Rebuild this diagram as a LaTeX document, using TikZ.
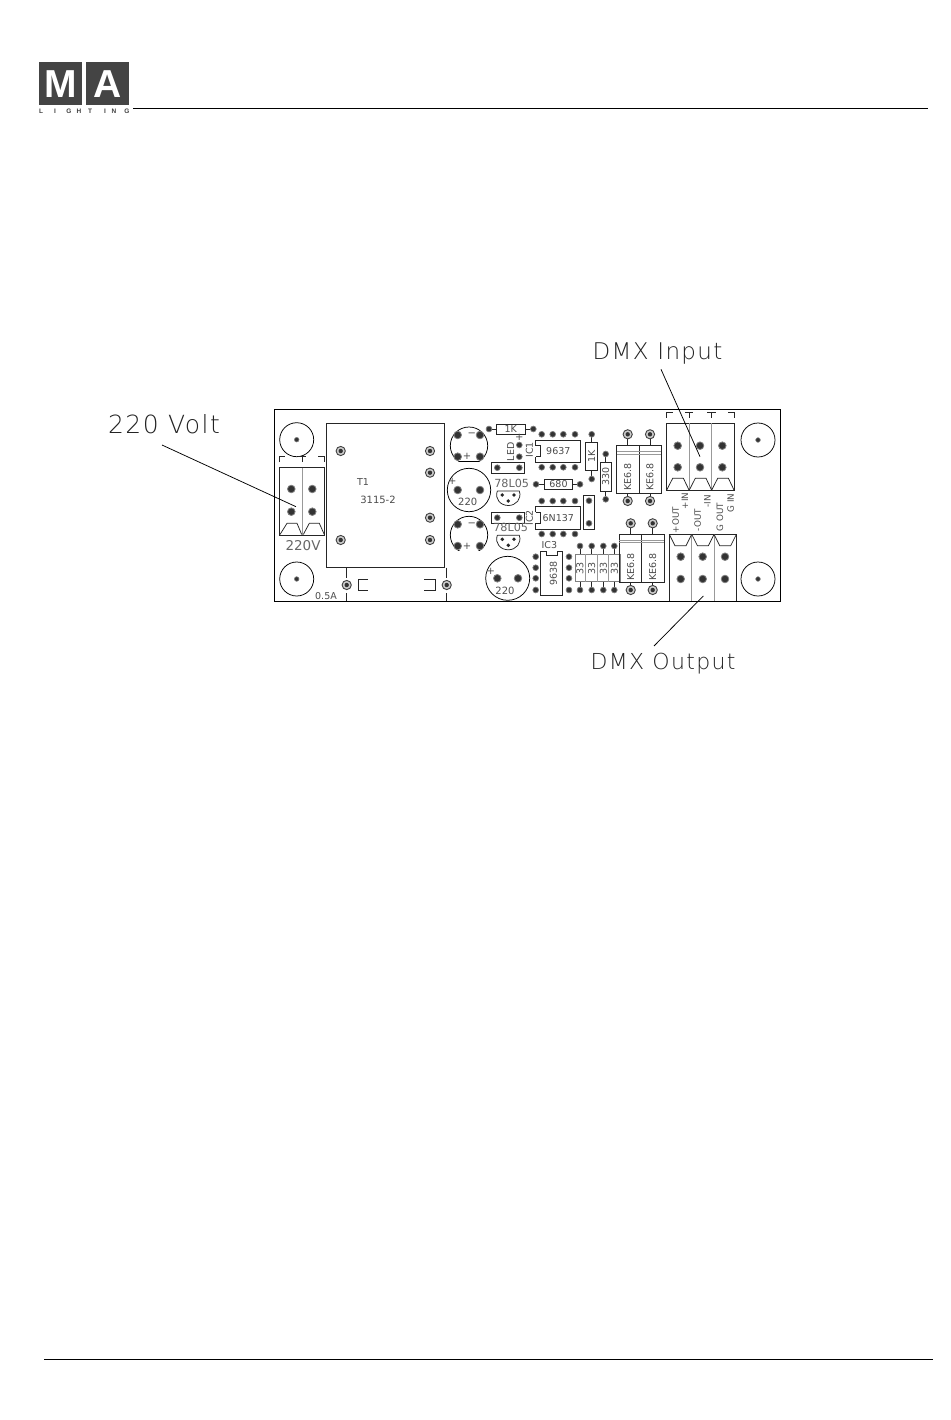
\documentclass[tikz,border=0pt]{standalone}
\usepackage{fontspec}
\setmainfont{Liberation Sans}
\newfontfamily\plotfont[LetterSpace=6]{DejaVu Sans ExtraLight}
\newfontfamily\pcbfont{DejaVu Sans}
\definecolor{logogrey}{HTML}{444444}
\definecolor{inkg}{HTML}{222222}
\newcommand\bpad[1]{\draw[black!75,line width=.9pt,fill=gray!40] (#1) circle (4.6); \fill[black!80] (#1) circle (2.2);}
\newcommand\spad[1]{\draw[gray,line width=.7pt,fill=black!80] (#1) circle (2.9);}
\newcommand\mpad[1]{\draw[gray,line width=.8pt,fill=black!80] (#1) circle (3.8);}
\newcommand\hole[1]{\draw[boardline] (#1) circle (17); \draw[gray,fill=black!80,line width=.6pt] (#1) circle (2.3);}
\begin{document}
\begin{tikzpicture}[x=1pt,y=-1pt,
  boardline/.style={line width=.75pt,draw=black},
  greyline/.style={line width=1pt,draw=gray!80},
  pcbbox/.style={line width=.75pt,draw=black!85},
  plot/.style={font=\plotfont\fontsize{#1}{#1}\selectfont,text=inkg,inner sep=0pt},
  mid/.style={font=\pcbfont\fontsize{#1}{#1}\selectfont,text=black!60,inner sep=0pt},
  pcb/.style={font=\pcbfont\fontsize{#1}{#1}\selectfont,text=black!70,inner sep=0pt},
  pcb/.default=8.8,
  logoletter/.style={font=\bfseries\fontsize{39}{39}\selectfont,text=white,inner sep=0pt},
  logosmall/.style={font=\bfseries\fontsize{6.5}{7}\selectfont,text=black!75,inner sep=0pt}]
\useasboundingbox (0,0) rectangle (950,1420);
\fill[white] (0,0) rectangle (950,1420);
% header and footer
\fill[logogrey] (39,61.7) rectangle (82.3,105);
\fill[logogrey] (86,61.7) rectangle (129,105);
\node[logoletter] (logoM) at (60.6,84) {M};
\node[logoletter] (logoA) at (107.5,84) {A};
\foreach \cx/\ch in {41/L,55/I,69/G,79/H,90/T,105/I,114/N,127/G}
  \node[logosmall] at (\cx,111.7) {\ch};
\draw[line width=.8pt] (133,108.5) -- (928,108.5);
\draw[line width=.8pt] (44,1359) -- (933,1359);
% board
\draw[boardline] (274,409) rectangle (780,601);
\foreach \a/\b in {296.7/439.7,296.7/579,758/440,758/579} {\hole{\a,\b}}
% 220V connector
\draw[pcbbox] (279.3,467.7) rectangle (324.3,535);
\draw[greyline] (302,467.7) -- (302,535);
\draw[pcbbox] (279.3,462) -- (279.3,456.7) -- (285,456.7) (298,456.7) -- (306,456.7) (302,456.7) -- (302,462) (318,456.7) -- (324.3,456.7) -- (324.3,462);
\draw[pcbbox] (280,534.5) -- (287,523.3) -- (297,523.3) -- (301.7,534.5) (303.3,534.5) -- (309.3,523.3) -- (319.3,523.3) -- (324.3,534.5);
\foreach \a/\b in {291.3/489,312.3/489,291.3/511.7,312.3/511.7} {\mpad{\a,\b}}
\node[mid=13.5] (lab220V) at (303,546) {220V};
% transformer
\draw[pcbbox] (326.7,423.3) rectangle (444,567.7);
\foreach \a/\b in {340.7/451,340.7/540,430/451,430/472.7,430/517.7,430/540} {\bpad{\a,\b}}
\node[pcb=9.5] (t1) at (363,481.7) {T1};
\node[pcb=10] (t2) at (378,500) {3115-2};
% fuse
\draw[pcbbox] (346.7,567.7) -- (346.7,578) (346.7,593) -- (346.7,601) (446.7,567.7) -- (446.7,578) (446.7,593) -- (446.7,601);
\draw[pcbbox] (368,579.3) -- (358,579.3) -- (358,590) -- (368,590) (424,579.3) -- (435.7,579.3) -- (435.7,590) -- (424,590);
\bpad{346.7,585} \bpad{446.7,585}
\node[pcb=9.5] (fuse) at (326,595.7) {0.5A};
% capacitors with pads
\foreach \cy in {445.7,535}{
  \draw[boardline] (459.3,\cy+16) -- (478.7,\cy+16);
  \draw[boardline] (469,\cy) circle (18.7);
  \fill[white] (455,\cy+16.4) rectangle (483,\cy+20);
  \mpad{457.7,\cy-10.7} \mpad{480,\cy-10.7} \mpad{457.7,\cy+11} \mpad{480,\cy+11}
  \node[pcb=10] at (471.7,\cy-10.7) {−};
  \node[pcb=10] at (467,\cy+11) {+};
}
\draw[boardline] (469,490) circle (21.7);
\mpad{457.7,490} \mpad{480,490}
\node[pcb=10] at (452.3,481.7) {+};
\node[pcb=10] (c220a) at (467.7,501.7) {220};
\draw[boardline] (507.7,578.3) circle (22);
\mpad{497.3,578.3} \mpad{518,578.3}
\node[pcb=10] at (490.7,571) {+};
\node[pcb=10] (c220b) at (505,590.7) {220};
% upper area
\draw[pcbbox] (496.7,424) rectangle (525,434);
\draw[pcbbox] (489,429) -- (496.7,429) (525,429) -- (533.3,429);
\spad{489,429} \spad{533.3,429}
\node[pcb=9.5] (r1k) at (510.7,429) {1K};
\node[pcb=9.5,rotate=90] (led) at (510.7,451.7) {LED};
\spad{519.3,445} \spad{519.3,456.7}
\node[pcb=10] at (519.3,437.3) {+};
\node[pcb=9.5,rotate=90] (ic1) at (529.3,450) {IC1};
\foreach \jy in {467.7,517.7}{
  \draw[pcbbox] (491.7,\jy-5.4) rectangle (524.3,\jy+5.6);
  \spad{497.3,\jy} \spad{519.3,\jy}
}
% ICs
\foreach \iy in {440,506.7}{
  \draw[pcbbox] (535.7,\iy) rectangle (580,\iy+22.3);
  \fill[white] (534.5,\iy+5.7) rectangle (536.5,\iy+16.7);
  \draw[pcbbox] (535.7,\iy+5.7) -- (540,\iy+5.7) -- (540,\iy+16.7) -- (535.7,\iy+16.7);
  \foreach \ix in {541.7,552.7,563.3,575}{ \spad{\ix,\iy-5.7} \spad{\ix,\iy+27.3} }
}
\node[pcb=9.5] (ic9637) at (558.3,451) {9637};
\node[pcb=9.5] (ic6n) at (558.3,517.7) {6N137};
\node[pcb=9.5,rotate=90] (ic2) at (529.3,518) {IC2};
% vertical 1K and 330
\draw[pcbbox] (585.7,442.3) rectangle (597.3,470.7);
\draw[pcbbox] (591.7,434.3) -- (591.7,442.3) (591.7,470.7) -- (591.7,479);
\spad{591.7,434.3} \spad{591.7,479}
\node[pcb=9.5,rotate=90] (r1kv) at (591.7,456.5) {1K};
\draw[pcbbox] (600,462.3) rectangle (611.3,491);
\draw[pcbbox] (605.7,454) -- (605.7,462.3) (605.7,491) -- (605.7,499.3);
\spad{605.7,454} \spad{605.7,499.3}
\node[pcb=9.5,rotate=90] (r330) at (605.7,476.7) {330};
% 680
\draw[pcbbox] (544.3,479) rectangle (572.7,489);
\draw[pcbbox] (536,484.3) -- (544.3,484.3) (572.7,484.3) -- (580,484.3);
\spad{536,484.3} \spad{580,484.3}
\node[pcb=9.5] (r680) at (558.5,484.2) {680};
% regulators
\node[mid=11.2] (reg1) at (511.7,483.3) {78L05};
\node[mid=11.2] (reg2) at (510.7,527.3) {78L05};
\foreach \ty in {491,535.3}{
  \draw[pcbbox] (497.3,\ty) -- (519.3,\ty) .. controls (522,\ty+8) and (516,\ty+14.5) .. (508.3,\ty+14.5) .. controls (500.5,\ty+14.5) and (494.5,\ty+8) .. (497.3,\ty);
  \fill[black!85] (502.3,\ty+4) circle (1.9) (514,\ty+4) circle (1.9) (508.3,\ty+10) circle (1.9);
}
% vertical jumper
\draw[pcbbox] (583.3,495) rectangle (594.3,529);
\spad{589,500.7} \spad{589,523.3}
% IC3
\node[pcb=9.5] (ic3) at (549.3,545) {IC3};
\draw[pcbbox] (540,551) -- (546,551) -- (546,555.7) -- (557.3,555.7) -- (557.3,551) -- (562.7,551) -- (562.7,595.7) -- (540,595.7) -- cycle;
\node[pcb=9.5,rotate=90] (ic9638) at (553.3,573.3) {9638};
\foreach \ky in {556.7,567.7,578.3,590}{ \spad{535.7,\ky} \spad{569,\ky} }
% 33 resistors
\draw[pcbbox,draw=gray] (575,554) rectangle (620,581.7);
\draw[greyline] (585.7,554) -- (585.7,581.7) (597.3,554) -- (597.3,581.7) (608.7,554) -- (608.7,581.7);
\foreach \rx/\cn in {580/a,591.7/b,603.3/c,614.3/d}{
  \draw[pcbbox] (\rx,546) -- (\rx,554) (\rx,581.7) -- (\rx,590);
  \spad{\rx,546} \spad{\rx,590}
  \node[pcb=9.5,rotate=90] (r33\cn) at (\rx,568.3) {33};
}
% KE6.8 diodes
\draw[pcbbox] (616.7,445.7) rectangle (661.3,493.3);
\draw[pcbbox] (639,445.7) -- (639,493.3);
\draw[greyline] (616.7,451.7) -- (661.3,451.7) (616.7,454) -- (661.3,454);
\draw[pcbbox] (627.7,434.3) -- (627.7,445.7) (650,434.3) -- (650,445.7) (627.7,493.3) -- (627.7,501) (650,493.3) -- (650,501);
\foreach \a in {627.7,650}{ \bpad{\a,434.3} \bpad{\a,501} \node[pcb=9.5,rotate=90] at (\a,476.7) {KE6.8}; }
\draw[pcbbox] (619.3,534.3) rectangle (664,582.3);
\draw[pcbbox] (641.7,534.3) -- (641.7,582.3);
\draw[greyline] (619.3,540) -- (664,540) (619.3,542.3) -- (664,542.3);
\draw[pcbbox] (630.7,523.3) -- (630.7,534.3) (652.7,523.3) -- (652.7,534.3) (630.7,582.3) -- (630.7,590) (652.7,582.3) -- (652.7,590);
\foreach \a in {630.7,652.7}{ \bpad{\a,523.3} \bpad{\a,590} \node[pcb=9.5,rotate=90] at (\a,566.7) {KE6.8}; }
% DMX input connector
\draw[pcbbox] (666.7,423.3) rectangle (734,490);
\draw[greyline] (689.3,423.3) -- (689.3,490) (711.7,423.3) -- (711.7,490);
\draw[pcbbox] (666.7,417.7) -- (666.7,412.3) -- (672.7,412.3) (685,412.3) -- (693.3,412.3) (689.3,412.3) -- (689.3,417.7) (707.3,412.3) -- (715.7,412.3) (711.7,412.3) -- (711.7,417.7) (728.3,412.3) -- (734,412.3) -- (734,417.7);
\foreach \a in {666.7,689.3,711.7}{
  \draw[pcbbox] (\a,490) -- (\a+6,478.3) -- (\a+16.7,478.3) -- (\a+22.3,490);
}
\foreach \a in {677.7,700,722.3}{ \mpad{\a,445.7} \mpad{\a,467.3} }
% DMX output connector
\draw[pcbbox] (669.3,534.3) -- (736.7,534.3) (669.3,534.3) -- (669.3,601) (736.7,534.3) -- (736.7,601);
\draw[greyline] (691.7,534.3) -- (691.7,601) (714,534.3) -- (714,601);
\foreach \a in {669.3,691.7,714}{
  \draw[pcbbox] (\a,534.3) -- (\a+5.7,545.7) -- (\a+16.7,545.7) -- (\a+22.4,534.3);
}
\foreach \a in {680.7,702.7,725}{ \mpad{\a,556.7} \mpad{\a,579} }
% pin labels
\node[pcb,rotate=90] (pin1) at (685,501) {+IN};
\node[pcb,rotate=90] (pin2) at (707.3,501) {-IN};
\node[pcb,rotate=90] (pin3) at (730.7,503) {G IN};
\node[pcb,rotate=90] (pin4) at (675.7,520) {+OUT};
\node[pcb,rotate=90] (pin5) at (697.7,520) {-OUT};
\node[pcb,rotate=90] (pin6) at (720,517) {G OUT};
% callouts
\node[plot=25] (volt) at (164,424) {220 Volt};
\node[plot=23] (dmxin) at (657.5,353.5) {DMX Input};
\node[plot=22] (dmxout) at (663,663.5) {DMX Output};
\coordinate (voltstart) at (162,445);
\coordinate (voltend) at (296,506.7);
\coordinate (instart) at (661,369.3);
\coordinate (inend) at (700,456.7);
\coordinate (outstart) at (654,646);
\coordinate (outend) at (703.3,596);
\draw[line width=.75pt] (voltstart) -- (voltend);
\draw[line width=.75pt] (instart) -- (inend);
\draw[line width=.75pt] (outstart) -- (outend);
\end{tikzpicture}
\end{document}
